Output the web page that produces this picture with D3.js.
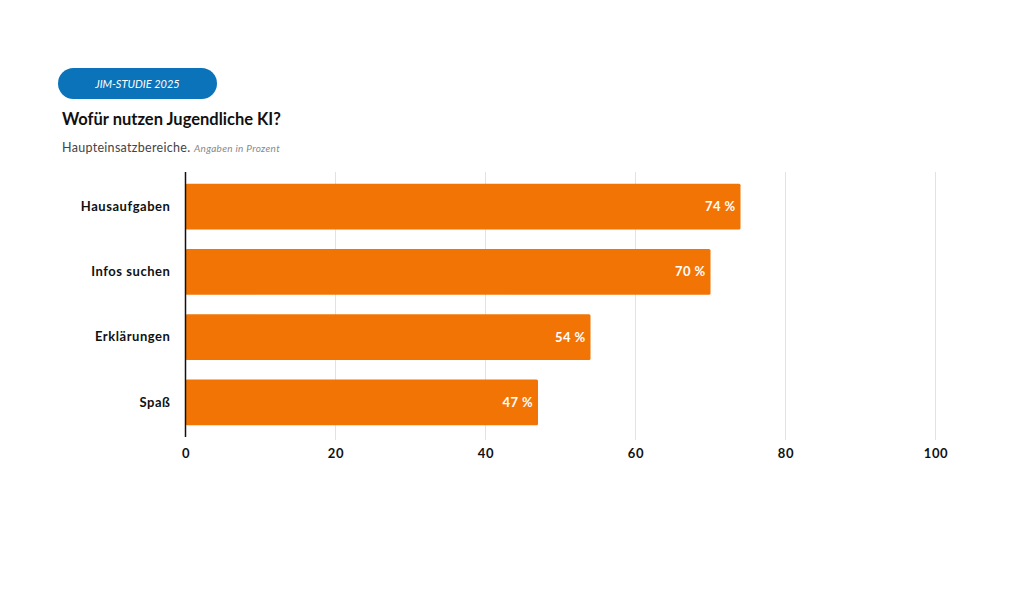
<!DOCTYPE html>
<html>
<head>
<meta charset="utf-8">
<script src="https://cdn.jsdelivr.net/npm/d3@7.9.0/dist/d3.min.js"></script>
<style>
  body { margin: 0; background: #fff; }
  svg { display: block; font-family: Lato, "Open Sans", sans-serif; }
</style>
</head>
<body>
<svg id="chart"></svg>
<script>
// Data
const categories = ["Hausaufgaben", "Infos suchen", "Erklärungen", "Spaß"];
const values = [74, 70, 54, 47];
const tickValues = [0, 20, 40, 60, 80, 100];

const W = 1024, H = 614;
const svg = d3.select("#chart").attr("width", W).attr("height", H);

// Header pill
svg.append("rect")
    .attr("x", 58).attr("y", 68)
    .attr("width", 159).attr("height", 31)
    .attr("rx", 15.5)
    .attr("fill", "#0a73ba");
svg.append("text")
    .attr("x", 137.5).attr("y", 87.5)
    .attr("text-anchor", "middle")
    .attr("fill", "#fff")
    .style("font-size", "11px")
    .style("font-style", "italic")
    .text("JIM-STUDIE 2025");

// Title + subtitle
svg.append("text")
    .attr("x", 62).attr("y", 125)
    .attr("fill", "#111")
    .style("font-size", "16.5px")
    .style("font-weight", "bold")
    .text("Wofür nutzen Jugendliche KI?");

const sub = svg.append("text")
    .attr("x", 62).attr("y", 152)
    .attr("fill", "#444")
    .style("font-size", "12.5px")
    .style("letter-spacing", "0.3px");
sub.append("tspan").text("Haupteinsatzbereiche. ");
sub.append("tspan")
    .attr("fill", "#888")
    .style("font-size", "10px")
    .style("font-style", "italic")
    .style("letter-spacing", "0.3px")
    .text("Angaben in Prozent");

// Scales
const x = d3.scaleLinear().domain([0, 100]).range([185.5, 935.5]);
const y = d3.scaleBand().domain(categories).range([172, 437])
    .paddingInner(0.3).paddingOuter(0.18);

// Gridlines
svg.append("g")
    .selectAll("line")
    .data(tickValues.slice(1))
    .join("line")
    .attr("x1", d => x(d)).attr("x2", d => x(d))
    .attr("y1", 172).attr("y2", 440)
    .attr("stroke", "#e2e2e2")
    .attr("stroke-width", 1);

// Bars
const data = categories.map((c, i) => ({ cat: c, val: values[i] }));
svg.append("g")
    .selectAll("rect")
    .data(data)
    .join("rect")
    .attr("x", x(0))
    .attr("y", d => y(d.cat))
    .attr("width", d => x(d.val) - x(0))
    .attr("height", y.bandwidth())
    .attr("rx", 1.5)
    .attr("fill", "#f27405");

// Value labels
svg.append("g")
    .selectAll("text")
    .data(data)
    .join("text")
    .attr("x", d => x(d.val) - 5)
    .attr("y", d => y(d.cat) + y.bandwidth() / 2)
    .attr("dy", "0.35em")
    .attr("text-anchor", "end")
    .attr("fill", "#fff")
    .style("font-size", "13px")
    .style("font-weight", "bold")
    .style("letter-spacing", "0.4px")
    .text(d => `${d.val} %`);

// Y axis line + labels
svg.append("line")
    .attr("x1", x(0)).attr("x2", x(0))
    .attr("y1", 172).attr("y2", 437)
    .attr("stroke", "#111")
    .attr("stroke-width", 1.5);

const yAxis = svg.append("g")
    .attr("transform", `translate(${x(0) - 15},0)`)
    .call(d3.axisLeft(y).tickSize(0).tickPadding(0));
yAxis.select(".domain").remove();
yAxis.selectAll("text")
    .attr("fill", "#111")
    .style("font-size", "13px")
    .style("font-weight", "bold")
    .style("letter-spacing", "0.55px")
    .style("font-family", "Lato, sans-serif");

// X axis labels
const xAxis = svg.append("g")
    .attr("transform", "translate(0,441)")
    .call(d3.axisBottom(x).tickValues(tickValues).tickSize(0).tickPadding(8));
xAxis.select(".domain").remove();
xAxis.selectAll("text")
    .attr("fill", "#111")
    .style("font-size", "13px")
    .style("font-weight", "bold")
    .style("letter-spacing", "0.6px")
    .style("font-family", "Lato, sans-serif");
</script>
</body>
</html>
